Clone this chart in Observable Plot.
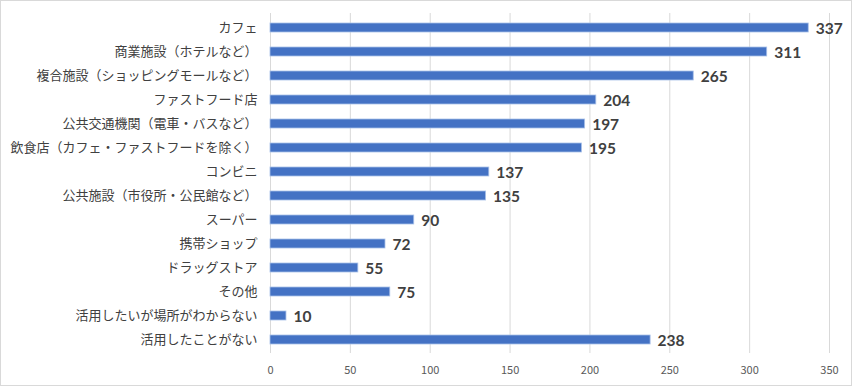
<!DOCTYPE html>
<html>
<head>
<meta charset="utf-8">
<script src="https://cdn.jsdelivr.net/npm/d3@7"></script>
<script src="https://cdn.jsdelivr.net/npm/@observablehq/plot@0.6"></script>
<style>
  html, body { margin: 0; padding: 0; background: #fff; }
  #chart svg { display: block; outline: 1px solid #d9d9d9; outline-offset: -1px; }
</style>
</head>
<body>
<div id="chart"></div>
<script>
const categories = [
  "カフェ",
  "商業施設（ホテルなど）",
  "複合施設（ショッピングモールなど）",
  "ファストフード店",
  "公共交通機関（電車・バスなど）",
  "飲食店（カフェ・ファストフードを除く）",
  "コンビニ",
  "公共施設（市役所・公民館など）",
  "スーパー",
  "携帯ショップ",
  "ドラッグストア",
  "その他",
  "活用したいが場所がわからない",
  "活用したことがない"
];
const values = [337, 311, 265, 204, 197, 195, 137, 135, 90, 72, 55, 75, 10, 238];
const xTicks = [0, 50, 100, 150, 200, 250, 300, 350];

const data = categories.map((c, i) => ({category: c, value: values[i]}));

const chart = Plot.plot({
  width: 852,
  height: 386,
  marginLeft: 270,
  marginRight: 23,
  marginTop: 13,
  marginBottom: 33,
  style: {fontFamily: "'Noto Sans CJK JP', sans-serif", background: "#fff"},
  x: {domain: [0, 350], ticks: xTicks},
  y: {domain: categories, paddingInner: 0.63, paddingOuter: 0.25, label: null},
  marks: [
    Plot.gridX(xTicks, {stroke: "#d9d9d9", strokeOpacity: 1}),
    Plot.axisX(xTicks, {tickSize: 0, tickPadding: 13, label: null, fontSize: 11, fill: "#595959", fontFamily: "'Noto Sans CJK JP', sans-serif"}),
    Plot.axisY({tickSize: 0, tickPadding: 13, label: null, fontSize: 13, fill: "#404040"}),
    Plot.barX(data, {x: "value", y: "category", fill: "#4472C4", stroke: "#a9c0e8", strokeWidth: 0.8}),
    Plot.text(data, {x: "value", y: "category", text: d => String(d.value), textAnchor: "start", dx: 7, dy: 1, fontSize: 15.5, fontWeight: "bold", fill: "#404040", fontFamily: "Lato, 'Noto Sans', sans-serif"})
  ]
});
document.getElementById("chart").appendChild(chart);
</script>
</body>
</html>
